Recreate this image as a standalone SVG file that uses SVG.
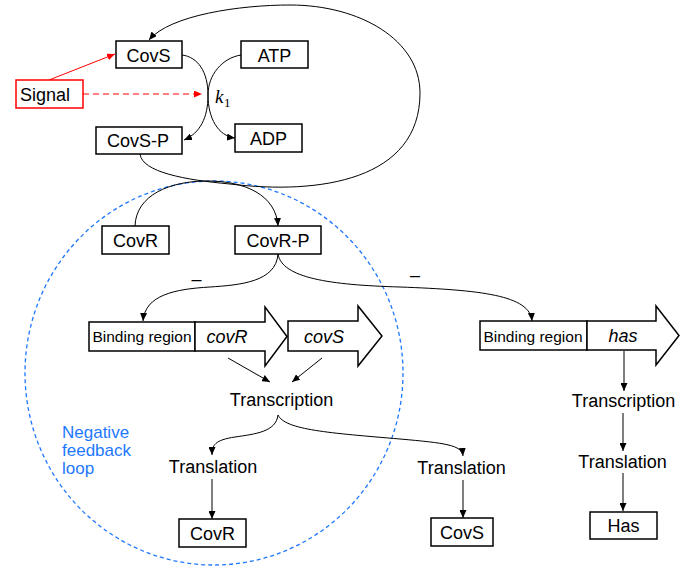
<svg xmlns="http://www.w3.org/2000/svg" width="686" height="566" viewBox="0 0 686 566">
<style>
  text { font-family: "Liberation Sans", Arial, sans-serif; font-size: 18px; fill: #000; }
  .box { fill: #fff; stroke: #000; stroke-width: 1.5; }
  .gene { fill: #fff; stroke: #000; stroke-width: 1.5; stroke-linejoin: miter; }
  .lbl { text-anchor: middle; }
  .br { font-size: 15.5px; text-anchor: middle; }
  .it { font-style: italic; text-anchor: middle; }
  .c { fill: none; stroke: #000; stroke-width: 1; }
  .red { fill: none; stroke: #f00; stroke-width: 1; }
  .blue { fill: #1e78ff; font-size: 17px; }
</style>
<defs>
  <marker id="ah" markerUnits="userSpaceOnUse" markerWidth="8" markerHeight="7" refX="8" refY="3.5" orient="auto">
    <path d="M0,0 L8,3.5 L0,7 z" fill="#000"/>
  </marker>
  <marker id="ahr" markerUnits="userSpaceOnUse" markerWidth="8" markerHeight="7" refX="8" refY="3.5" orient="auto">
    <path d="M0,0 L8,3.5 L0,7 z" fill="#f00"/>
  </marker>
</defs>
<rect width="686" height="566" fill="#fff"/>

<g id="feedback-loop">
  <ellipse cx="214" cy="373" rx="189" ry="192" fill="none" stroke="#1e78ff" stroke-width="1.3" stroke-dasharray="4,3"/>
  <text class="blue" x="62" y="438">Negative</text>
  <text class="blue" x="62" y="456">feedback</text>
  <text class="blue" x="62" y="474">loop</text>
</g>

<g id="connectors">
  <line class="red" x1="49" y1="80" x2="115" y2="54" marker-end="url(#ahr)"/>
  <line class="red" x1="83" y1="94" x2="202" y2="94" stroke-dasharray="6,4" marker-end="url(#ahr)"/>
  <path class="c" d="M182,55 C198,57 208,72 208,95 C208,118 200,133 184,140" marker-end="url(#ah)"/>
  <path class="c" d="M241,55 C222,58 208,75 208,95 C208,118 218,136 235,138" marker-end="url(#ah)"/>
  <path class="c" d="M140,154 C142,172 185,180 230,184 C320,195 420,180 420,93 C420,40 360,5 290,5 C240,5 170,15 149,40" marker-end="url(#ah)"/>
  <path class="c" d="M135,226 C136,195 170,181 207,181 C245,181 276,195 278,226" marker-end="url(#ah)"/>
  <path class="c" d="M278,254 C276,282 240,285 210,287 C175,289 145,295 143,321" marker-end="url(#ah)"/>
  <path class="c" d="M278,254 C282,278 330,285 400,287 C480,290 530,295 532,321" marker-end="url(#ah)"/>
  <line class="c" x1="228" y1="358" x2="270" y2="382" marker-end="url(#ah)"/>
  <line class="c" x1="322" y1="358" x2="292" y2="382" marker-end="url(#ah)"/>
  <path class="c" d="M278,415 C276,432 255,434 235,437 C215,440 212,445 212,455" marker-end="url(#ah)"/>
  <path class="c" d="M278,415 C285,430 330,433 400,439 C445,443 462,445 463,456" marker-end="url(#ah)"/>
  <line class="c" x1="212" y1="479" x2="212" y2="519" marker-end="url(#ah)"/>
  <line class="c" x1="463" y1="480" x2="463" y2="518" marker-end="url(#ah)"/>
  <line class="c" x1="624" y1="351" x2="624" y2="391" marker-end="url(#ah)"/>
  <line class="c" x1="623" y1="413" x2="623" y2="451" marker-end="url(#ah)"/>
  <line class="c" x1="623" y1="473" x2="623" y2="511" marker-end="url(#ah)"/>
  <text x="196.5" y="285" class="lbl">–</text>
  <text x="415" y="281" class="lbl">–</text>
  <text x="215" y="103" style="font-family:'Liberation Serif','Times New Roman',serif;font-style:italic;font-size:19px">k</text>
  <text x="224" y="107" style="font-family:'Liberation Serif','Times New Roman',serif;font-size:13px">1</text>
</g>

<g id="signal">
  <rect x="16" y="80" width="67" height="28" fill="#fff" stroke="#f00" stroke-width="1.5"/>
  <text x="20" y="101">Signal</text>
</g>
<g id="covs">
  <rect class="box" x="116" y="41" width="66" height="27"/>
  <text class="lbl" x="148.5" y="61.5">CovS</text>
</g>
<g id="atp">
  <rect class="box" x="241" y="41" width="67" height="27"/>
  <text class="lbl" x="274.5" y="61.5">ATP</text>
</g>
<g id="covs-p">
  <rect class="box" x="96" y="127" width="86" height="27"/>
  <text class="lbl" x="138" y="147">CovS-P</text>
</g>
<g id="adp">
  <rect class="box" x="235" y="124" width="67" height="28"/>
  <text class="lbl" x="268.5" y="145">ADP</text>
</g>
<g id="covr">
  <rect class="box" x="102" y="226" width="67" height="28"/>
  <text class="lbl" x="135.5" y="247">CovR</text>
</g>
<g id="covr-p">
  <rect class="box" x="235" y="226" width="86" height="28"/>
  <text class="lbl" x="278" y="247">CovR-P</text>
</g>
<g id="operon-cov">
  <rect class="box" x="89" y="322" width="106" height="29"/>
  <text class="br" x="142" y="342">Binding region</text>
  <polygon class="gene" points="195,322 265,322 265,307 287,336.5 265,366 265,351 195,351"/>
  <text class="it" x="227" y="343">covR</text>
  <polygon class="gene" points="288,321 358,321 358,306 382,336 358,366 358,351 288,351"/>
  <text class="it" x="324" y="343">covS</text>
</g>
<g id="operon-has">
  <rect class="box" x="480" y="321" width="107" height="29"/>
  <text class="br" x="533" y="342">Binding region</text>
  <polygon class="gene" points="587,321 656,321 656,306 679,335.5 656,365 656,350 587,350"/>
  <text class="it" x="623" y="342">has</text>
</g>
<g id="transcription-cov">
  <text class="lbl" x="281.5" y="406">Transcription</text>
</g>
<g id="translation-covr">
  <text class="lbl" x="213" y="473">Translation</text>
</g>
<g id="translation-covs">
  <text class="lbl" x="461.5" y="474">Translation</text>
</g>
<g id="covr-protein">
  <rect class="box" x="179" y="519" width="67" height="28"/>
  <text class="lbl" x="212.5" y="540">CovR</text>
</g>
<g id="covs-protein">
  <rect class="box" x="431" y="518" width="62" height="28"/>
  <text class="lbl" x="462" y="539">CovS</text>
</g>
<g id="transcription-has">
  <text class="lbl" x="623.5" y="407">Transcription</text>
</g>
<g id="translation-has">
  <text class="lbl" x="622.5" y="468">Translation</text>
</g>
<g id="has-protein">
  <rect class="box" x="590" y="512" width="67" height="27"/>
  <text class="lbl" x="623.5" y="532">Has</text>
</g>
</svg>
